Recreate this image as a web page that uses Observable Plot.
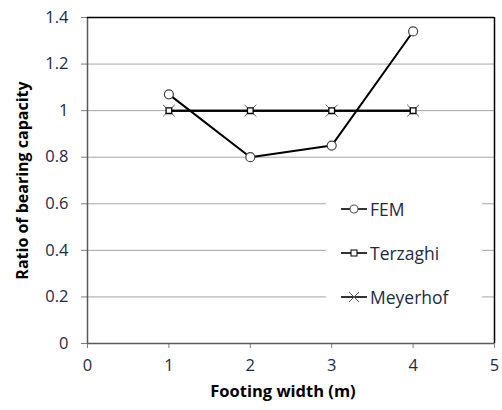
<!DOCTYPE html>
<html>
<head>
<meta charset="utf-8">
<script src="https://cdn.jsdelivr.net/npm/d3@7"></script>
<script src="https://cdn.jsdelivr.net/npm/@observablehq/plot@0.6"></script>
<style>
  html, body { margin: 0; padding: 0; background: #fff; }
  #wrap { position: relative; width: 502px; height: 410px; font-family: "Open Sans", sans-serif; }
  #legend { position: absolute; left: 326px; top: 192px; width: 156px; height: 132px; background: #fff; }
  .item { position: absolute; left: 15px; height: 20px; display: flex; align-items: center; font-size: 17.5px; color: #1f2a44; }
  .item svg { margin-right: 2px; }
</style>
</head>
<body>
<div id="wrap"></div>
<script>
const widths = [1, 2, 3, 4];
const fem = [1.07, 0.80, 0.85, 1.34];
const terzaghi = [1.00, 1.00, 1.00, 1.00];
const meyerhof = [1.00, 1.00, 1.00, 1.00];
const seriesNames = ["FEM", "Terzaghi", "Meyerhof"];
const xDomain = [0, 5];
const yDomain = [0, 1.4];
const xTicks = [0, 1, 2, 3, 4, 5];
const yTicks = [0, 0.2, 0.4, 0.6, 0.8, 1, 1.2, 1.4];
const xLabel = "Footing width (m)";
const yLabel = "Ratio of bearing capacity";

const femData = widths.map((x, i) => ({x, y: fem[i]}));
const terData = widths.map((x, i) => ({x, y: terzaghi[i]}));
const meyData = widths.map((x, i) => ({x, y: meyerhof[i]}));

const chart = Plot.plot({
  width: 502,
  height: 410,
  marginLeft: 87,
  marginRight: 8,
  marginTop: 17,
  marginBottom: 67,
  style: {fontFamily: "'Open Sans', sans-serif", fontSize: "16px", color: "#1f2a44", background: "#fff"},
  x: {domain: xDomain, ticks: xTicks, label: null},
  y: {domain: yDomain, ticks: yTicks, label: null},
  marks: [
    Plot.gridY(yTicks.slice(1, -1), {stroke: "#a6a6a6", strokeOpacity: 1, strokeWidth: 1}),
    Plot.axisX(xTicks, {tickSize: 5, tickPadding: 11, stroke: "#7f7f7f", fill: "#1f2a44", fontSize: 16.5, tickFormat: d => String(d)}),
    Plot.axisY(yTicks, {tickSize: 6, tickPadding: 13, stroke: "#7f7f7f", fill: "#1f2a44", fontSize: 16.5, tickFormat: d => String(d)}),
    Plot.ruleY([yDomain[0]], {stroke: "#595959", strokeWidth: 1.5}),
    Plot.ruleX([xDomain[0]], {stroke: "#595959", strokeWidth: 1.5}),
    Plot.ruleY([yDomain[1]], {stroke: "#000", strokeWidth: 1.5}),
    Plot.ruleX([xDomain[1]], {stroke: "#000", strokeWidth: 1.5}),
    Plot.line(meyData, {x: "x", y: "y", stroke: "#000", strokeWidth: 2}),
    Plot.dot(meyData, {x: "x", y: "y", symbol: "times", r: 5.5, stroke: "#666", strokeWidth: 1}),
    Plot.line(terData, {x: "x", y: "y", stroke: "#000", strokeWidth: 2}),
    Plot.dot(terData, {x: "x", y: "y", symbol: "square", r: 3.2, fill: "#fff", stroke: "#000", strokeWidth: 1.3}),
    Plot.line(femData, {x: "x", y: "y", stroke: "#000", strokeWidth: 2}),
    Plot.dot(femData, {x: "x", y: "y", symbol: "circle", r: 4.5, fill: "#fff", stroke: "#444", strokeWidth: 1.2}),
    Plot.text([xLabel], {frameAnchor: "bottom", dy: 53, dx: -8, fontWeight: "bold", fontSize: 16.5, fill: "#000"}),
    Plot.text([yLabel], {frameAnchor: "left", textAnchor: "middle", dx: -65, rotate: -90, fontWeight: "bold", fontSize: 16, fill: "#000"})
  ]
});

const wrap = document.getElementById("wrap");
wrap.appendChild(chart);

const symbols = {
  FEM: '<line x1="0" y1="10" x2="26" y2="10" stroke="#000" stroke-width="1.6"/><circle cx="13" cy="10" r="4" fill="#fff" stroke="#555" stroke-width="1.1"/>',
  Terzaghi: '<line x1="0" y1="10" x2="26" y2="10" stroke="#000" stroke-width="1.6"/><rect x="10" y="7" width="6" height="6" fill="#fff" stroke="#000" stroke-width="1"/>',
  Meyerhof: '<line x1="0" y1="10" x2="26" y2="10" stroke="#000" stroke-width="1.6"/><path d="M8,5 L18,15 M18,5 L8,15" stroke="#555" stroke-width="1"/>'
};
const legend = document.createElement("div");
legend.id = "legend";
seriesNames.forEach((name, i) => {
  const item = document.createElement("div");
  item.className = "item";
  item.style.top = (7 + i * 44) + "px";
  item.innerHTML = '<svg width="27" height="20">' + symbols[name] + '</svg><span>' + name + '</span>';
  legend.appendChild(item);
});
wrap.appendChild(legend);
</script>
</body>
</html>
